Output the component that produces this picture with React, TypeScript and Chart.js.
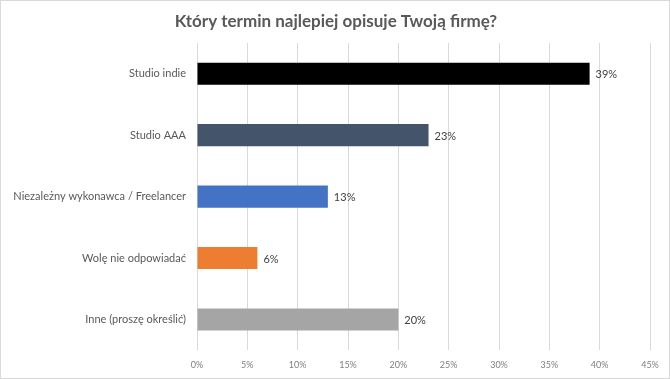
import React, { useEffect, useRef } from "react";
import { Chart, registerables } from "chart.js";

Chart.register(...registerables);

const categories: string[] = [
  "Studio indie",
  "Studio AAA",
  "Niezależny wykonawca / Freelancer",
  "Wolę nie odpowiadać",
  "Inne (proszę określić)",
];
const values: number[] = [39, 23, 13, 6, 20];
const barColors: string[] = ["#000000", "#44546A", "#4472C4", "#ED7D31", "#A5A5A5"];
const titleText = "Który termin najlepiej opisuje Twoją firmę?";
const xTickMax = 45;
const xTickStep = 5;

const FONT = "Lato, 'Open Sans', sans-serif";

const bgPlugin = {
  id: "bgBorder",
  beforeDraw(chart: any) {
    const { ctx, width, height } = chart;
    ctx.save();
    ctx.fillStyle = "#ffffff";
    ctx.fillRect(0, 0, width, height);
    ctx.strokeStyle = "#d9d9d9";
    ctx.lineWidth = 1;
    ctx.strokeRect(0.5, 0.5, width - 1, height - 1);
    ctx.fillStyle = "#595959";
    ctx.font = `bold 17px ${FONT}`;
    ctx.textAlign = "center";
    ctx.textBaseline = "middle";
    ctx.fillText(titleText, width / 2 + 1, 22);
    ctx.restore();
  },
};

const valueLabels = {
  id: "valueLabels",
  afterDatasetsDraw(chart: any) {
    const { ctx } = chart;
    const meta = chart.getDatasetMeta(0);
    ctx.save();
    ctx.font = `11px ${FONT}`;
    ctx.fillStyle = "#404040";
    ctx.textAlign = "left";
    ctx.textBaseline = "middle";
    meta.data.forEach((bar: any, i: number) => {
      ctx.fillText(`${values[i]}%`, bar.x + 6, bar.y + 1);
    });
    ctx.restore();
  },
};

export default function App() {
  const canvasRef = useRef<HTMLCanvasElement | null>(null);

  useEffect(() => {
    if (!canvasRef.current) return;
    const chart = new Chart(canvasRef.current, {
      type: "bar",
      data: {
        labels: categories,
        datasets: [
          {
            data: values,
            backgroundColor: barColors,
            borderWidth: 0,
            barPercentage: 0.36,
            categoryPercentage: 1,
          },
        ],
      },
      options: {
        indexAxis: "y",
        animation: false,
        responsive: true,
        maintainAspectRatio: false,
        layout: { padding: { left: 0, right: 20, top: 43, bottom: 0 } },
        plugins: {
          legend: { display: false },
          tooltip: { enabled: false },
          title: { display: false },
        },
        scales: {
          x: {
            min: 0,
            max: xTickMax,
            ticks: {
              stepSize: xTickStep,
              color: "#7f7f7f",
              font: { family: FONT, size: 9 },
              padding: 9,
              callback: (v: any) => `${v}%`,
            },
            grid: { color: "#d9d9d9", drawTicks: false },
            border: { display: false },
          },
          y: {
            afterFit: (axis: any) => {
              axis.width = 197;
            },
            ticks: {
              color: "#595959",
              font: { family: FONT, size: 11 },
              padding: 11,
            },
            grid: { display: false, drawTicks: false },
            border: { display: false },
          },
        },
      },
      plugins: [bgPlugin, valueLabels],
    });
    return () => chart.destroy();
  }, []);

  return (
    <div style={{ position: "absolute", left: 0, top: 0, width: 670, height: 379 }}>
      <canvas ref={canvasRef} />
    </div>
  );
}
